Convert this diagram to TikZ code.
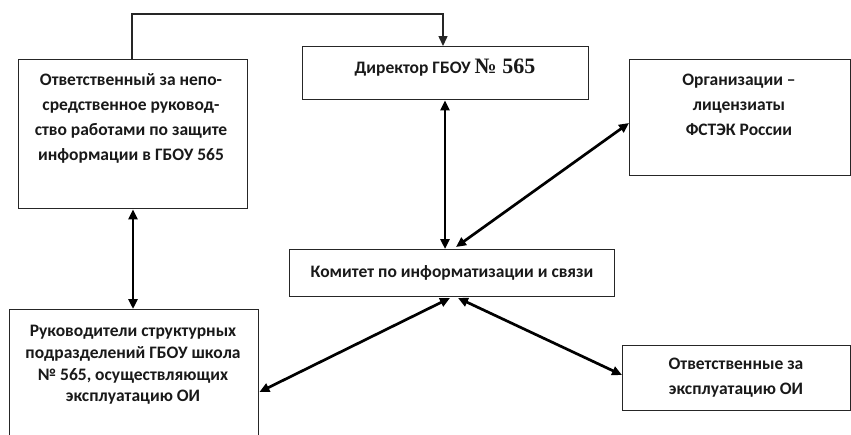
\documentclass[tikz,border=0pt]{standalone}
\usepackage{fontspec}
\setmainfont{Carlito}
\newfontfamily\numfont{Liberation Serif}
\usetikzlibrary{arrows.meta}
\tikzset{
  box/.style={draw=black!85, line width=1.4pt, rectangle, inner sep=0pt, anchor=north west},
  txt/.style={font=\bfseries\fontsize{17.5}{25}\selectfont, align=center, inner sep=0pt, text=black!90},
  conn/.style={line width=2.7pt, {Triangle[length=10pt,width=9pt]}-{Triangle[length=10pt,width=9pt]}},
  line/.style={line width=1.5pt, black!85}
}
\begin{document}
\begin{tikzpicture}[x=1pt,y=-1pt]
\clip (0,0) rectangle (851,434);
\fill[white] (0,0) rectangle (851,434);
% boxes
\node[box, minimum width=229pt, minimum height=149pt] (A) at (18,59) {};
\node[box, minimum width=286pt, minimum height=53pt] (D) at (302,46) {};
\node[box, minimum width=221pt, minimum height=116pt] (O) at (629,59) {};
\node[box, minimum width=325pt, minimum height=47pt] (K) at (289,249) {};
\node[box, minimum width=249pt, minimum height=140pt] (R) at (9,309) {};
\node[box, minimum width=228pt, minimum height=65pt] (E) at (622,345) {};
% texts
\node[txt] (tA) at (131,118) {Ответственный за непо-\\средственное руковод-\\ство работами по защите\\информации в ГБОУ 565};
\node[txt] (tD) at (445,68) {Директор ГБОУ {\numfont\fontsize{22}{24}\selectfont № 565}};
\node[txt] (tO) at (739,105) {Организации –\\лицензиаты\\ФСТЭК России};
\node[txt] (tK) at (452,273) {Комитет по информатизации и связи};
\node[txt, font=\bfseries\fontsize{17.5}{21.7}\selectfont] (tR) at (133,365) {Руководители структурных\\подразделений ГБОУ школа\\№ 565, осуществляющих\\эксплуатацию ОИ};
\node[txt] (tE) at (736,378) {Ответственные за\\эксплуатацию ОИ};
% connectors
\coordinate (t1) at (132,14);
\coordinate (t2) at (443,14);
\draw[line, -{Triangle[length=10pt,width=9pt]}] (t1 |- A.north) -- (t1) -- (t2) -- (t2 |- D.north);
\coordinate (v1) at (445,0);
\draw[conn] (v1 |- D.south) -- (v1 |- K.north);
\coordinate (k1) at (456,247);
\draw[conn] (O.west |- 0,123) -- (k1);
\coordinate (v2) at (133,0);
\draw[conn] (v2 |- A.south) -- (v2 |- R.north);
\coordinate (k2) at (450,298);
\coordinate (k3) at (458,298);
\draw[conn] (k2) -- (R.east |- 0,392);
\draw[conn] (k3) -- (E.west |- 0,375);
\end{tikzpicture}
\end{document}
